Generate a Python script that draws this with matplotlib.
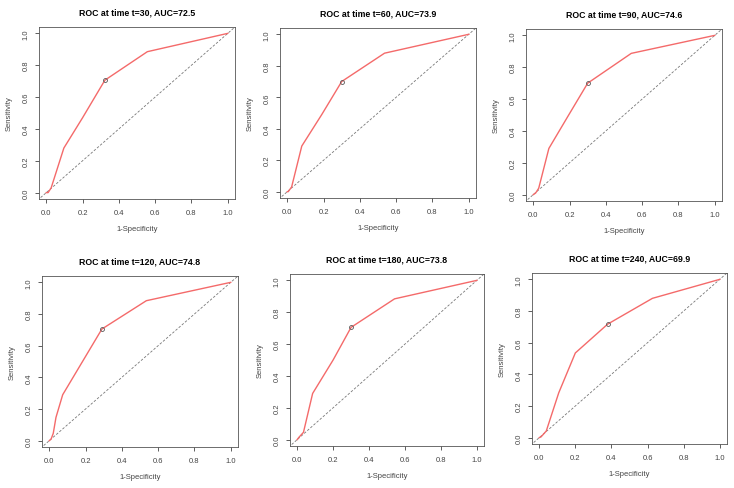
import numpy as np
import matplotlib
matplotlib.use("Agg")
import matplotlib.pyplot as plt

plt.rcParams['font.family'] = ['Liberation Sans', 'DejaVu Sans']

times = [30, 60, 90, 120, 180, 240]
aucs = [72.5, 73.9, 74.6, 74.8, 73.8, 69.9]

# ROC points (1-specificity, sensitivity)
fpr = [
    [0.0, 0.01, 0.027, 0.097, 0.2, 0.323, 0.557, 1.0],
    [0.0, 0.005, 0.024, 0.08, 0.19, 0.30, 0.536, 1.0],
    [0.0, 0.013, 0.03, 0.086, 0.19, 0.30, 0.54, 1.0],
    [0.0, 0.01, 0.022, 0.037, 0.074, 0.29, 0.535, 1.0],
    [0.0, 0.01, 0.035, 0.086, 0.2, 0.30, 0.542, 1.0],
    [0.0, 0.01, 0.039, 0.108, 0.2, 0.379, 0.627, 1.0],
]
tpr = [
    [0.0, 0.0, 0.03, 0.28, 0.47, 0.706, 0.885, 1.0],
    [0.0, 0.0, 0.03, 0.29, 0.49, 0.70, 0.88, 1.0],
    [0.0, 0.01, 0.04, 0.29, 0.49, 0.70, 0.887, 1.0],
    [0.0, 0.01, 0.046, 0.147, 0.29, 0.705, 0.884, 1.0],
    [0.0, 0.015, 0.046, 0.29, 0.50, 0.705, 0.884, 1.0],
    [0.0, 0.005, 0.042, 0.283, 0.535, 0.717, 0.88, 1.0],
]
cut_idx = [5, 5, 5, 5, 5, 5]

# axes boxes in pixels: left, top, right, bottom
boxes = [
    (39, 28, 235, 200), (280, 29, 476, 199), (526, 30, 722, 202),
    (42, 277, 238, 448), (290, 275, 484, 447), (532, 274, 727, 445),
]

W, H = 734, 489
fig = plt.figure(figsize=(W / 100, H / 100), dpi=100)
ticks = [0.0, 0.2, 0.4, 0.6, 0.8, 1.0]
tcol = '#444444'

for i in range(6):
    l, t, r, b = boxes[i]
    ax = fig.add_axes([l / W, 1 - b / H, (r - l) / W, (b - t) / H])
    ax.plot([-0.1, 1.1], [-0.1, 1.1], ls=(0, (3, 2)), color='#777777', lw=0.6)
    ax.plot(fpr[i], tpr[i], color='#f46a6a', lw=1.0)
    k = cut_idx[i]
    ax.plot(fpr[i][k], tpr[i][k], 'o', ms=2.8, mfc='none', mec='#555555', mew=0.6)
    ax.set_xlim(-0.04, 1.04)
    ax.set_ylim(-0.04, 1.04)
    ax.set_xticks(ticks)
    ax.set_yticks(ticks)
    ax.set_xticklabels([f"{v:.1f}" for v in ticks])
    ax.set_yticklabels([f"{v:.1f}" for v in ticks], rotation=90, va='center')
    ax.tick_params(labelsize=5.5, colors=tcol, length=3, width=0.6, pad=4)
    for s in ax.spines.values():
        s.set_color('#555555')
        s.set_linewidth(0.6)
    ax.set_title(f"ROC at time t={times[i]}, AUC={aucs[i]}", fontsize=6.3,
                 fontweight='bold', pad=9)
    ax.set_xlabel("1-Specificity", fontsize=5.5, color=tcol, labelpad=7)
    ax.set_ylabel("Sensitivity", fontsize=5.5, color=tcol, labelpad=7)

fig.savefig("out.png", dpi=100)
